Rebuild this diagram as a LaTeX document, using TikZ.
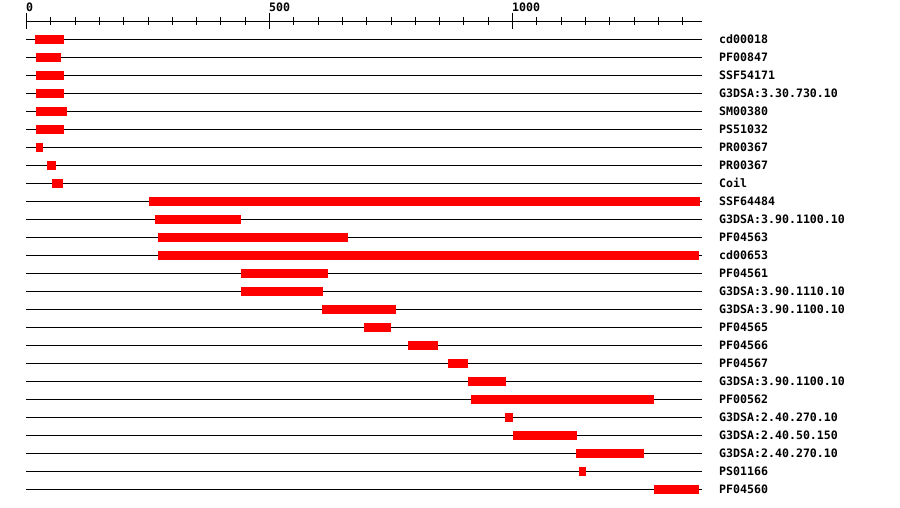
\documentclass[tikz,border=0pt]{standalone}
\usepackage{fontspec}
\newfontfamily\labfont{DejaVu Sans Mono}
\begin{document}
\begin{tikzpicture}[x=1pt,y=-1pt,
  axisline/.style={black,line width=1pt},
  rowline/.style={black,line width=1pt},
  bar/.style={fill={rgb,255:red,255;green,0;blue,0}},
  lab/.style={anchor=base west,inner sep=0pt,font=\labfont\bfseries\fontsize{11.6}{12}\selectfont},
  ticklab/.style={anchor=base west,inner sep=0pt,font=\labfont\bfseries\fontsize{11.6}{12}\selectfont}]
\useasboundingbox[fill=white] (0,0) rectangle (900,508);
% axis
\coordinate (axL) at (26,21.5);
\coordinate (axR) at (702,21.5);
\draw[axisline] (axL) -- (axR);
\foreach \k in {0,...,27}{
  \pgfmathsetmacro\tx{26.5+24.3*\k}
  \ifnum\k=0 \draw[axisline] (\tx,13) -- (\tx,29);
  \else\ifnum\k=10 \draw[axisline] (\tx,13) -- (\tx,29);
  \else\ifnum\k=20 \draw[axisline] (\tx,13) -- (\tx,29);
  \else \draw[axisline] (\tx,17) -- (\tx,25);
  \fi\fi\fi
}
\node[ticklab] (t0) at (26,12) {0};
\node[ticklab] (t500) at (269,12) {500};
\node[ticklab] (t1000) at (512,12) {1000};
% rows
\foreach \i/\a/\b/\name in {
  0/35/64/cd00018,
  1/36/61/PF00847,
  2/36/64/SSF54171,
  3/36/64/G3DSA:3.30.730.10,
  4/36/67/SM00380,
  5/36/64/PS51032,
  6/36/43/PR00367,
  7/47/56/PR00367,
  8/52/63/Coil,
  9/149/700/SSF64484,
  10/155/241/G3DSA:3.90.1100.10,
  11/158/348/PF04563,
  12/158/699/cd00653,
  13/241/328/PF04561,
  14/241/323/G3DSA:3.90.1110.10,
  15/322/396/G3DSA:3.90.1100.10,
  16/364/391/PF04565,
  17/408/438/PF04566,
  18/448/468/PF04567,
  19/468/506/G3DSA:3.90.1100.10,
  20/471/654/PF00562,
  21/505/513/G3DSA:2.40.270.10,
  22/513/577/G3DSA:2.40.50.150,
  23/576/644/G3DSA:2.40.270.10,
  24/579/586/PS01166,
  25/654/699/PF04560}{
  \pgfmathsetmacro\ly{39.5+18*\i}
  \coordinate (l\i) at (26,\ly);
  \coordinate (r\i) at (702,\ly);
  \draw[rowline] (l\i) -- (r\i);
  \fill[bar] (\a,\ly-4.5) rectangle (\b,\ly+4.5);
  \node[lab] (n\i) at (719,\ly+4) {\name};
}
\end{tikzpicture}
\end{document}
